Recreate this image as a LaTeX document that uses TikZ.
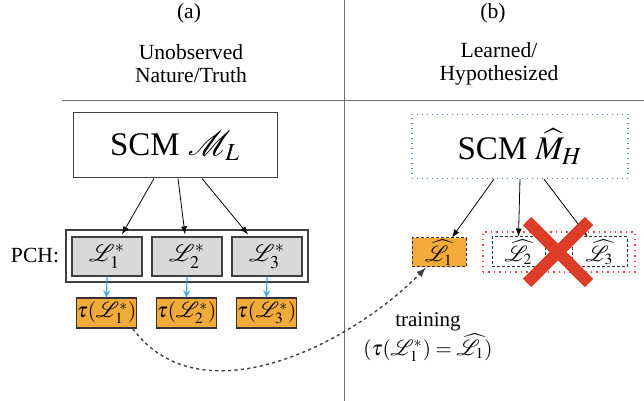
\documentclass[tikz,border=0pt]{standalone}
\usepackage{mathptmx}
\usepackage{mathrsfs}
\usepackage{fontspec}
\setmainfont{Liberation Serif}
\usetikzlibrary{arrows}

\definecolor{boxgray}{RGB}{217,217,217}
\definecolor{boxorange}{RGB}{242,171,58}
\definecolor{arrowblue}{RGB}{77,163,245}
\definecolor{dotblue}{RGB}{80,140,210}
\definecolor{dotred}{RGB}{232,70,60}
\definecolor{crossred}{RGB}{221,61,40}
\definecolor{rulegray}{RGB}{110,110,110}

\begin{document}
\begin{tikzpicture}[x=0.5pt,y=-0.5pt,>=latex,
	scmbox/.style={draw=black!75,line width=0.5pt,minimum width=102pt,minimum height=32.5pt,font=\fontsize{16.5}{18}\selectfont},
	lawbox/.style={draw=black!75,fill=boxgray,line width=0.6pt,minimum width=35pt,minimum height=19.5pt,inner sep=0pt,font=\fontsize{12}{14}\selectfont},
	taubox/.style={draw=black!80,fill=boxorange,line width=0.6pt,minimum width=26.5pt,minimum height=15pt,inner sep=0pt,font=\fontsize{10.5}{12}\selectfont},
	hatbox/.style={draw=black!80,dashed,line width=0.5pt,dash pattern=on 1.5pt off 1pt,minimum width=26.5pt,minimum height=15pt,inner sep=0pt,font=\fontsize{10.5}{12}\selectfont},
	head/.style={align=center,font=\fontsize{10.8}{11.5}\selectfont}]
	\useasboundingbox (0,0) rectangle (644,401);
	
	% separators
	\draw[rulegray,line width=0.5pt] (344,0) -- (344,401);
	\draw[rulegray,line width=0.5pt] (62,101) -- (644,101);
	
	\node[head] (ta) at (189,13) {(a)};
	\node[head] (tl) at (191,64) {Unobserved\\Nature/Truth};
	\node[head] (tb) at (493,13) {(b)};
	\node[head] (tr) at (499,64) {Learned/\\Hypothesized};
	
	% (a) nature
	\node[scmbox] (scmL) at (175,145.5) {SCM $\mathscr{M}_L$};
	\node[draw=black!75,line width=0.6pt,minimum width=121pt,minimum height=26pt] (pch) at (187,256) {};
	\node[head] (pchlab) at (35,256) {PCH:};
	\node[lawbox] (l1) at (107,256.5) {$\mathscr{L}^*_1$};
	\node[lawbox] (l2) at (187,256.5) {$\mathscr{L}^*_2$};
	\node[lawbox] (l3) at (267,256.5) {$\mathscr{L}^*_3$};
	\draw[->] ([xshift=-10.5pt]scmL.south) -- ([xshift=7.5pt,yshift=1pt]l1.north);
	\draw[->] ([xshift=1.5pt]scmL.south) -- ([xshift=-1pt,yshift=1pt]l2.north);
	\draw[->] ([xshift=13.5pt]scmL.south) -- ([xshift=-9.5pt,yshift=1pt]l3.north);
	
	\node[taubox] (tau1) at (106.5,313) {$\tau(\mathscr{L}^*_1)$};
	\node[taubox] (tau2) at (186.5,313) {$\tau(\mathscr{L}^*_2)$};
	\node[taubox] (tau3) at (266.5,313) {$\tau(\mathscr{L}^*_3)$};
	\foreach \i in {1,2,3}
		\draw[->,arrowblue,line width=0.6pt,>=stealth] (l\i.south) -- (tau\i.north);
	
	% (b) learned
	\node[scmbox,draw=dotblue,dotted,line width=0.6pt,minimum width=108pt,minimum height=32pt] (scmH) at (520,146.5) {SCM $\widehat{M}_H$};
	\node[hatbox,fill=boxorange,minimum width=27pt,minimum height=14.5pt] (h1) at (439,252.5) {$\widehat{\mathscr{L}}_1$};
	\node[draw=dotred,dotted,line width=0.7pt,minimum width=76pt,minimum height=20pt] (drop) at (559,252) {};
	\node[hatbox] (h2) at (518.5,252) {$\widehat{\mathscr{L}}_2$};
	\node[hatbox,minimum width=27.5pt] (h3) at (599.5,252) {$\widehat{\mathscr{L}}_3$};
	\draw[->] ([xshift=-13pt]scmH.south) -- ([xshift=6.5pt]h1.north);
	\draw[->] (scmH.south) -- (h2.north);
	\draw[->] ([xshift=12pt]scmH.south) -- ([xshift=-6pt]h3.north);
	
	% crossed out
	\coordinate (xc) at (558,252);
	\draw[crossred,line width=6pt] ([shift={(-31,-31)}]xc) -- ([shift={(31,31)}]xc);
	\draw[crossred,line width=6pt] ([shift={(31,-31)}]xc) -- ([shift={(-31,31)}]xc);
	
	% training
	\draw[->,black!75,line width=0.7pt,dash pattern=on 1.6pt off 1.6pt] ([xshift=-2pt]tau1.south east) .. controls (200,420) and (350,345) .. ([xshift=-6.5pt]h1.south);
	\node[align=center,font=\fontsize{10.5}{14.5}\selectfont] (train) at (428,337) {training\\$(\tau(\mathscr{L}^*_1)=\widehat{\mathscr{L}}_1)$};
\end{tikzpicture}
\end{document}
